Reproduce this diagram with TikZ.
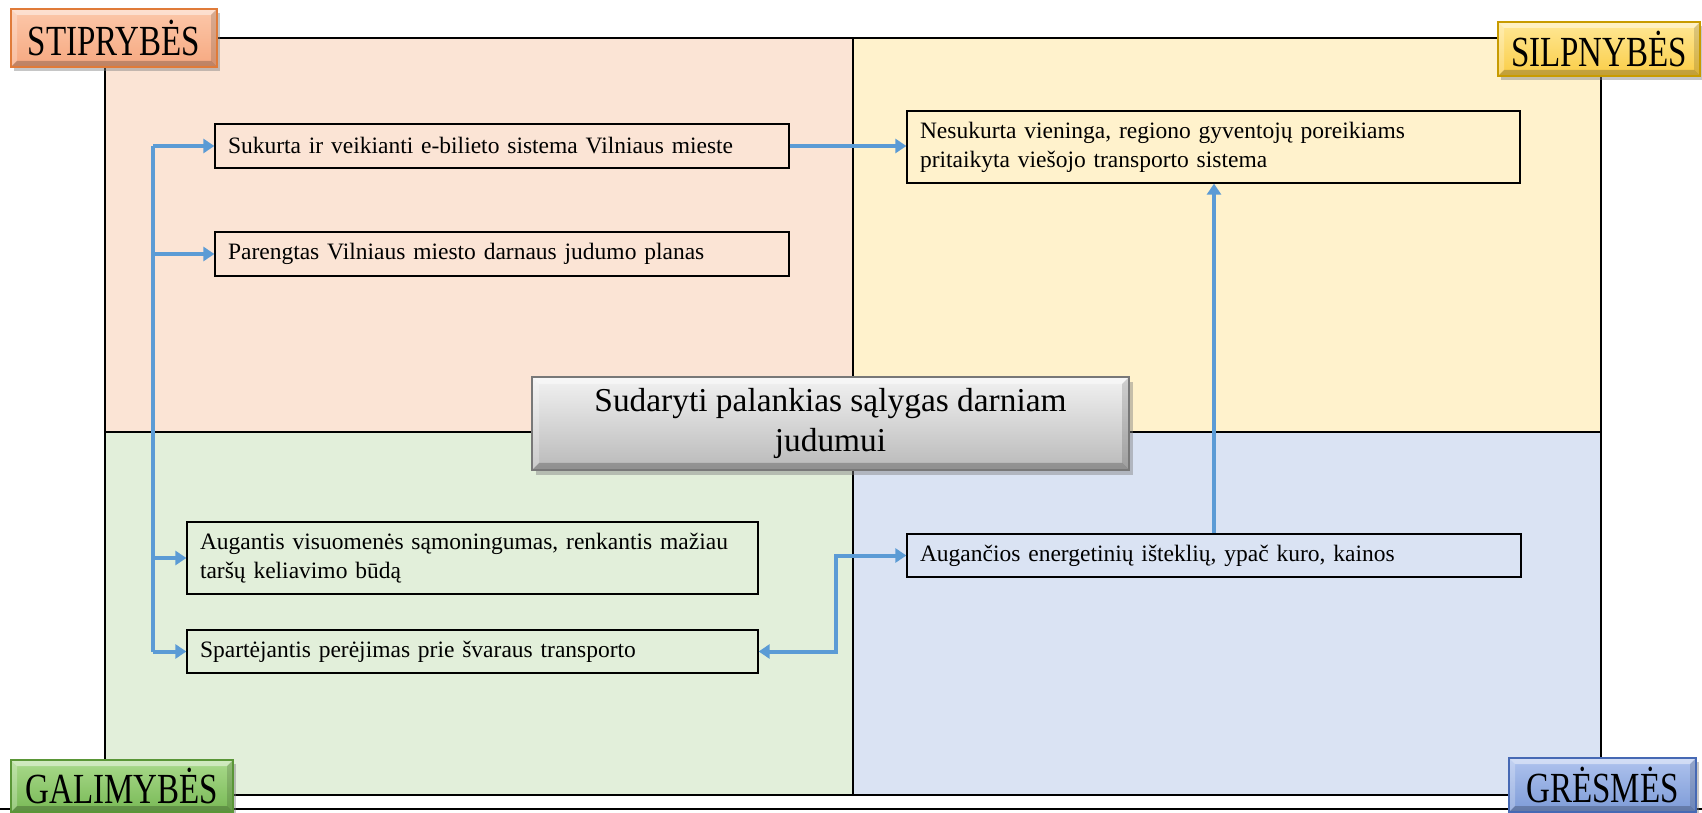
\documentclass[tikz,border=0pt]{standalone}
\usepackage{fontspec}
\setmainfont{Liberation Serif}
\usetikzlibrary{arrows.meta,shadows,calc}
\definecolor{qS}{HTML}{FBE4D5}
\definecolor{qW}{HTML}{FFF2CC}
\definecolor{qO}{HTML}{E2EFDA}
\definecolor{qT}{HTML}{DAE3F3}
\definecolor{arrowblue}{HTML}{5B9BD5}
\definecolor{sBord}{HTML}{E07B39}
\definecolor{sTop}{RGB}{252,200,170}
\definecolor{sBot}{RGB}{246,168,128}
\definecolor{wBord}{RGB}{200,155,0}
\definecolor{wTop}{RGB}{255,232,150}
\definecolor{wBot}{RGB}{250,205,70}
\definecolor{oBord}{RGB}{90,150,55}
\definecolor{oTop}{RGB}{170,218,140}
\definecolor{oBot}{RGB}{120,185,85}
\definecolor{tBord}{RGB}{70,105,180}
\definecolor{tTop}{RGB}{175,195,238}
\definecolor{tBot}{RGB}{125,155,215}
\definecolor{gBord}{RGB}{120,120,120}
\definecolor{gTop}{RGB}{242,242,242}
\definecolor{gBot}{RGB}{185,185,185}
\tikzset{
  bevel/.style={path picture={
    \path (path picture bounding box.north west) coordinate (bnw)
          (path picture bounding box.north east) coordinate (bne)
          (path picture bounding box.south west) coordinate (bsw)
          (path picture bounding box.south east) coordinate (bse);
    \fill[white,opacity=.45] (bnw) -- (bne) -- ([xshift=-#1,yshift=-#1]bne) -- ([xshift=#1,yshift=-#1]bnw) -- cycle;
    \fill[white,opacity=.25] (bnw) -- ([xshift=#1,yshift=-#1]bnw) -- ([xshift=#1,yshift=#1]bsw) -- (bsw) -- cycle;
    \fill[black,opacity=.22] (bsw) -- (bse) -- ([xshift=-#1,yshift=#1]bse) -- ([xshift=#1,yshift=#1]bsw) -- cycle;
    \fill[black,opacity=.14] (bne) -- (bse) -- ([xshift=-#1,yshift=#1]bse) -- ([xshift=-#1,yshift=-#1]bne) -- cycle;
  }},
  corner/.style={draw=#1, line width=1.2pt, inner sep=0pt, bevel=6pt,
    drop shadow={shadow xshift=3pt, shadow yshift=-4pt, opacity=.45},
    font=\fontsize{33}{33}\selectfont},
  itembox/.style={draw=black, line width=1.3pt, inner xsep=13pt, inner ysep=4pt,
    align=left, font=\fontsize{23.5}{29}\selectfont},
  arr/.style={draw=arrowblue, line width=4pt, -{Triangle[length=11pt,width=14pt]}},
  trunkline/.style={draw=arrowblue, line width=4pt},
}
\newcommand{\tallcaps}[1]{\scalebox{1}[1.3]{#1}}
\begin{document}
\begin{tikzpicture}[x=1pt,y=1pt]
\useasboundingbox (0,0) rectangle (1702,812);
% quadrants
\fill[qS] (105,380) rectangle (853,774);
\fill[qW] (853,380) rectangle (1601,774);
\fill[qO] (105,17) rectangle (853,380);
\fill[qT] (853,17) rectangle (1601,380);
\draw[line width=1.4pt] (105,17) rectangle (1601,774);
\draw[line width=1.4pt] (853,17) -- (853,774);
\draw[line width=1.4pt] (105,380) -- (1601,380);
\draw[line width=2.6pt] (0,3) -- (1702,3);

% corner labels
\node[corner=sBord, top color=sTop, bottom color=sBot,
  minimum width=206pt, minimum height=58pt] (stip) at (114,774) {\tallcaps{STIPRYBĖS}};
\node[corner=wBord, top color=wTop, bottom color=wBot,
  minimum width=202pt, minimum height=54pt] (silp) at (1599,763) {\tallcaps{SILPNYBĖS}};
\node[corner=oBord, top color=oTop, bottom color=oBot,
  minimum width=222pt, minimum height=52pt] (gali) at (122,26) {\tallcaps{GALIMYBĖS}};
\node[corner=tBord, top color=tTop, bottom color=tBot,
  minimum width=187pt, minimum height=54pt] (gres) at (1602.5,27) {\tallcaps{GRĖSMĖS}};

% center
\node[draw=gBord, line width=1.2pt, bevel=7pt,
  top color=gTop, bottom color=gBot,
  drop shadow={shadow xshift=4pt, shadow yshift=-5pt, opacity=.45},
  minimum width=597pt, minimum height=93pt, align=center, inner sep=0pt,
  font=\fontsize{33.4}{40}\selectfont] (goal) at (830.5,388.5)
  {Sudaryti palankias sąlygas darniam\\judumui};

% items
\node[itembox, text width=548pt, minimum height=44pt] (s1) at (502,666) {Sukurta ir veikianti e-bilieto sistema Vilniaus mieste};
\node[itembox, text width=548pt, minimum height=44pt] (s2) at (502,558) {Parengtas Vilniaus miesto darnaus judumo planas};
\node[itembox, text width=587pt, minimum height=72pt] (w1) at (1213.5,665) {Nesukurta vieninga, regiono gyventojų poreikiams\\pritaikyta viešojo transporto sistema};
\node[itembox, text width=545pt, minimum height=72pt] (o1) at (472.5,254) {Augantis visuomenės sąmoningumas, renkantis mažiau\\taršų keliavimo būdą};
\node[itembox, text width=545pt, minimum height=43pt] (o2) at (472.5,160.5) {Spartėjantis perėjimas prie švaraus transporto};
\node[itembox, text width=588pt, minimum height=43pt] (t1) at (1214,256.5) {Augančios energetinių išteklių, ypač kuro, kainos};

% connectors
\coordinate (trunk) at (153,0);
\coordinate (bend) at (836,0);
\draw[trunkline] (s1.west -| trunk) -- (o2.west -| trunk);
\draw[arr] (s1.west -| trunk) -- (s1.west);
\draw[arr] (s2.west -| trunk) -- (s2.west);
\draw[arr] (o1.west -| trunk) -- (o1.west);
\draw[arr] (o2.west -| trunk) -- (o2.west);
\draw[arr] (s1.east) -- (s1.east -| w1.west);
\draw[arr] (t1.north) -- (t1.north |- w1.south);
\draw[arr, {Triangle[length=11pt,width=14pt]}-{Triangle[length=11pt,width=14pt]}] (o2.east) -- (o2.east -| bend) -- (t1.west -| bend) -- (t1.west);
\end{tikzpicture}
\end{document}
